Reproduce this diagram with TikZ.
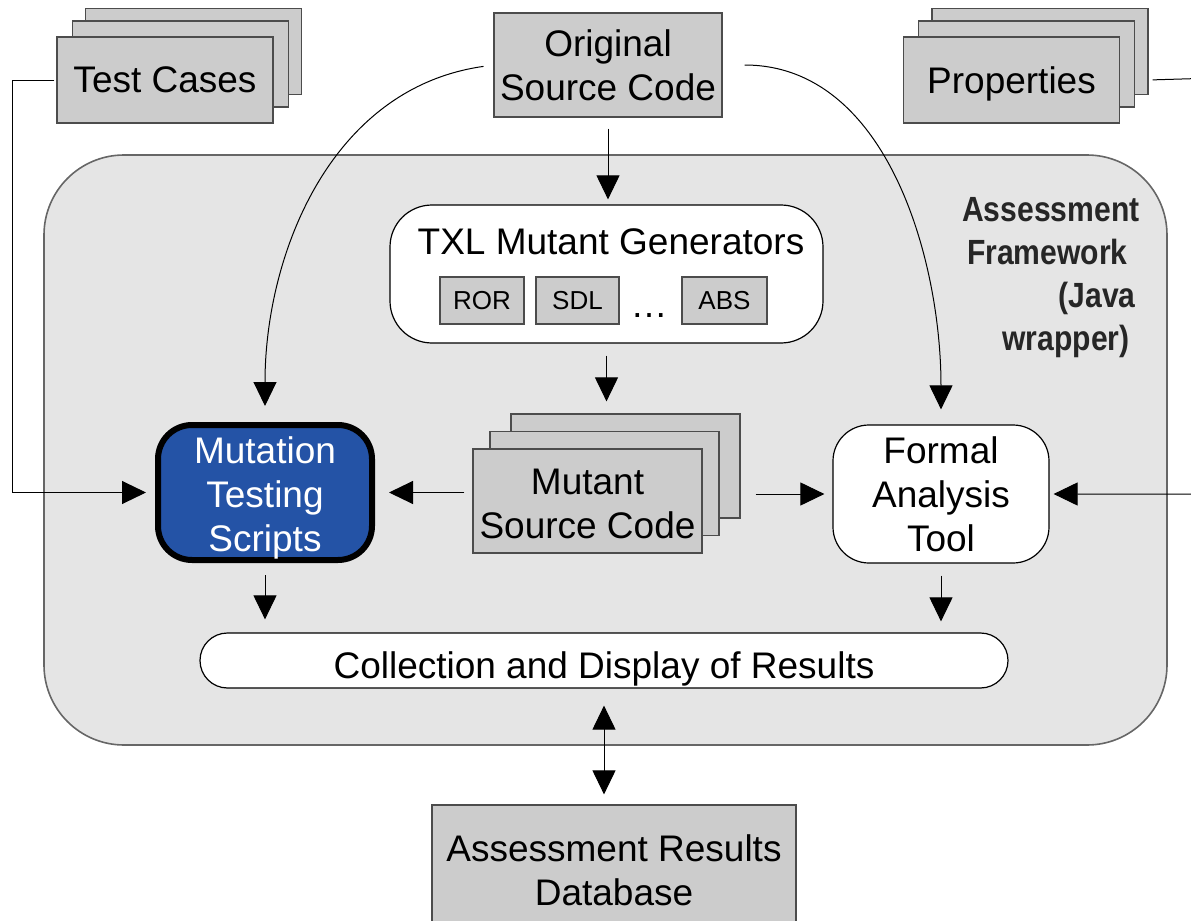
\documentclass[tikz,border=0pt]{standalone}
\usepackage{fontspec}
\setmainfont{Liberation Sans}
\newfontfamily\narrowfont{Liberation Sans}[FakeStretch=0.86]
\usetikzlibrary{arrows.meta}
\usetikzlibrary{calc}
\newcommand\bigtext{\fontsize{18.5pt}{22pt}\selectfont}
\newcommand\smalltext{\fontsize{13pt}{15pt}\selectfont}
\newcommand\framefont{\narrowfont\bfseries\fontsize{17.5pt}{21.5pt}\selectfont}
\newcommand\padR[1]{\makebox[#1]{}}
\definecolor{boxgray}{gray}{0.8}
\definecolor{framegray}{gray}{0.898}
\definecolor{scriptblue}{RGB}{36,83,166}
\def\stackW{108pt}
\def\stackH{43pt}
\def\mutW{114.5pt}
\def\mutH{52pt}

\begin{document}
\begin{tikzpicture}[
    x=0.5pt, y=-0.5pt,
    >={Triangle[length=12pt,width=11.5pt]},
    every node/.style={font=\bigtext, align=center, inner sep=0pt},
    arrowline/.style={
      ->, line width=0.5pt
    },
    graybox/.style={
      draw=black!70, line width=0.6pt, fill=boxgray
    },
    stackbox/.style={
      graybox, minimum width=\stackW, minimum height=\stackH, text depth=0pt
    },
    mutbox/.style={
      graybox, minimum width=\mutW, minimum height=\mutH
    },
    genbox/.style={
      graybox, font=\smalltext, minimum height=23.5pt
    },
    roundbox/.style={
      draw=black, line width=0.6pt, fill=white, rounded corners=#1
    }
  ]
    \useasboundingbox (0,0) rectangle (1191,921);

    \node[draw=black!60, line width=0.8pt, fill=framegray, rounded corners=40pt,
          minimum width=561.5pt, minimum height=295pt] (Framework) at (605.5,450) {};
    \node[anchor=north east, align=right, font=\framefont, text=black!85] (FrameLabel) at (1140,197)
      {Assessment\\Framework\padR{6pt}\\(Java\padR{2pt}\\wrapper)\padR{5pt}};

    \node[stackbox] (TestCasesBack) at (193.5,51.5) {};
    \node[stackbox] (TestCasesMid)  at (180.5,64)   {};
    \node[stackbox] (TestCases)     at (165,80)     {Test Cases};

    \node[stackbox] (PropertiesBack) at (1040,51.5) {};
    \node[stackbox] (PropertiesMid)  at (1026.5,64) {};
    \node[stackbox] (Properties)     at (1011.5,80) {Properties};

    \node[graybox, minimum width=114pt, minimum height=52pt] (OrigSrc) at (608,65) {Original\\Source Code};

    \node[roundbox=21pt, minimum width=216.5pt, minimum height=69pt] (Generators) at (606.5,274) {};
    \node (GenTitle) at (611,242) {TXL Mutant Generators};
    \node[genbox, minimum width=42pt]   (ROR) at (482,300.5)   {ROR};
    \node[genbox, minimum width=41.5pt] (SDL) at (577.5,300.5) {SDL};
    \node[anchor=base] (Dots) at (649,317) {\dots};
    \node[genbox, minimum width=42.5pt] (ABS) at (724.5,300.5) {ABS};

    \node[mutbox] (MutantBack)  at (625.5,466)   {};
    \node[mutbox] (MutantMid)   at (604.5,483.5) {};
    \node[mutbox, text height=37pt, text depth=0pt] (MutantFront) at (587.5,501) {Mutant\\Source Code};

    \node[draw=black, line width=3pt, fill=scriptblue, text=white, rounded corners=17pt,
          text height=58.5pt, text depth=0pt,
          minimum width=107pt, minimum height=67.5pt] (Scripts) at (265,492.5) {Mutation\\Testing\\Scripts};

    \node[roundbox=18pt, minimum width=108pt, minimum height=69pt] (Formal) at (941,494) {Formal\\Analysis\\Tool};

    \node[roundbox=13.75pt, minimum width=404pt, minimum height=27.5pt, text height=17.5pt, text depth=0pt] (Results) at (604,660.5)
      {Collection and Display of Results};

    \node[graybox, minimum width=182pt, minimum height=65pt] (Database) at (614,870) {Assessment Results\\Database};

    \coordinate (TestBend) at (12,80);
    \coordinate (PropBend) at (1215,78);

    \draw[arrowline, shorten <=5.5pt, shorten >=2.5pt] (OrigSrc.south) -- (OrigSrc.south |- Generators.north);
    \draw[arrowline, shorten <=6pt, shorten >=6pt] (Generators.south) -- (Generators.south |- MutantBack.north);
    \draw[arrowline, shorten <=5pt, shorten >=8pt] (OrigSrc.west) to[out=188,in=90] (Scripts.north);
    \draw[arrowline, shorten <=11pt, shorten >=7.5pt] (OrigSrc.east) to[out=0,in=90] (Formal.north);
    \draw[arrowline, shorten <=1pt, shorten >=4.5pt] (TestCases.west) -- (TestBend) |- (Scripts.west);
    \draw[arrowline, shorten <=2pt, shorten >=2pt] (Properties.east -| PropertiesBack.east) -- (PropBend) |- (Formal.east);
    \draw[arrowline, shorten <=4pt, shorten >=7pt] (MutantFront.west |- Scripts.east) -- (Scripts.east);
    \draw[arrowline, shorten <=7.5pt, shorten >=4pt] (MutantBack.east |- Formal.west) -- (Formal.west);
    \draw[arrowline, shorten <=6pt, shorten >=6.5pt] (Scripts.south) -- (Scripts.south |- Results.north);
    \draw[arrowline, shorten <=6pt, shorten >=5.5pt] (Formal.south) -- (Formal.south |- Results.north);
    \draw[<->, line width=0.5pt, shorten <=8.5pt, shorten >=5pt] (Results.south) -- (Results.south |- Database.north);
  \end{tikzpicture}
\end{document}
